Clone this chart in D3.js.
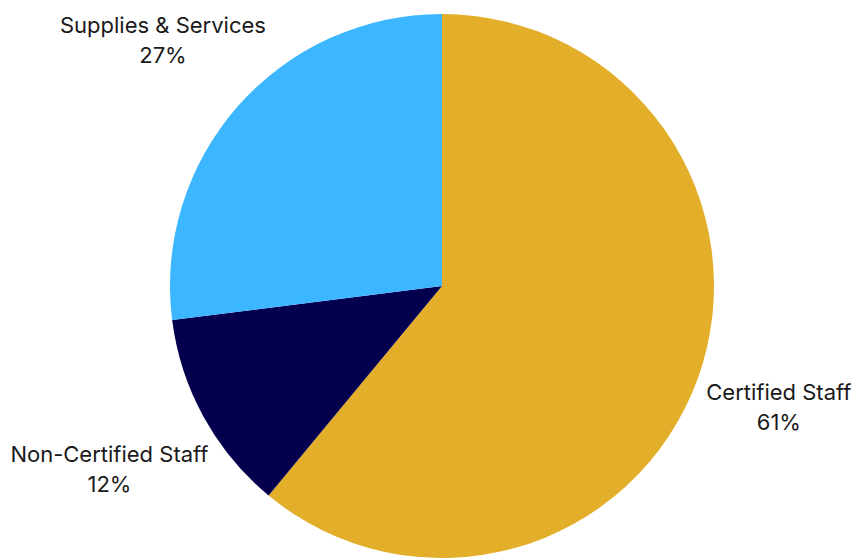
<!DOCTYPE html>
<html>
<head>
<meta charset="utf-8">
<script src="https://cdn.jsdelivr.net/npm/d3@7"></script>
<style>
  body { margin: 0; background: #fff; }
</style>
</head>
<body>
<div id="chart"></div>
<script>
const categories = ['Certified Staff', 'Non-Certified Staff', 'Supplies & Services'];
const values = [61, 12, 27];
const colors = ['#E3AF2B', '#05004E', '#3BB6FF'];

const width = 854;
const height = 558;
const radius = 272;
const labelGap = 8;

const svg = d3.select('#chart')
    .append('svg')
    .attr('width', width)
    .attr('height', height);

const g = svg.append('g')
    .attr('transform', 'translate(442, 286)');

const data = categories.map((name, i) => ({ name, value: values[i], color: colors[i] }));

const pie = d3.pie()
    .sort(null)
    .value(function(d) { return d.value; });

const arcs = pie(data);

const arc = d3.arc().innerRadius(0).outerRadius(radius);

g.selectAll('path.slice')
    .data(arcs)
    .enter()
    .append('path')
    .attr('class', 'slice')
    .attr('d', arc)
    .attr('fill', function(d) { return d.data.color; });

// Two-line labels outside each slice
const labels = g.selectAll('text.label')
    .data(arcs)
    .enter()
    .append('text')
    .attr('class', 'label')
    .attr('text-anchor', 'middle')
    .attr('font-family', 'Inter, sans-serif')
    .attr('font-size', '22px')
    .attr('fill', '#1a1a1a');

labels.append('tspan')
    .attr('x', 0)
    .attr('dy', 0)
    .text(function(d) { return d.data.name; });

labels.append('tspan')
    .attr('x', 0)
    .attr('dy', 30)
    .text(function(d) { return d.data.value + '%'; });

// Push each label box out along the mid-angle until it clears the pie
labels.each(function(d) {
    const box = this.getBBox();
    const mid = (d.startAngle + d.endAngle) / 2;
    const ux = Math.sin(mid), uy = -Math.cos(mid);
    let t = radius;
    let cx, cy;
    while (true) {
        cx = t * ux; cy = t * uy;
        const x0 = cx - box.width / 2, x1 = cx + box.width / 2;
        const y0 = cy - box.height / 2, y1 = cy + box.height / 2;
        const nx = Math.max(x0, Math.min(0, x1));
        const ny = Math.max(y0, Math.min(0, y1));
        if (Math.hypot(nx, ny) >= radius + labelGap) break;
        t += 0.5;
    }
    const ox = cx - (box.x + box.width / 2);
    const oy = cy - (box.y + box.height / 2);
    d3.select(this).attr('transform', 'translate(' + ox + ',' + oy + ')');
});
</script>
</body>
</html>
